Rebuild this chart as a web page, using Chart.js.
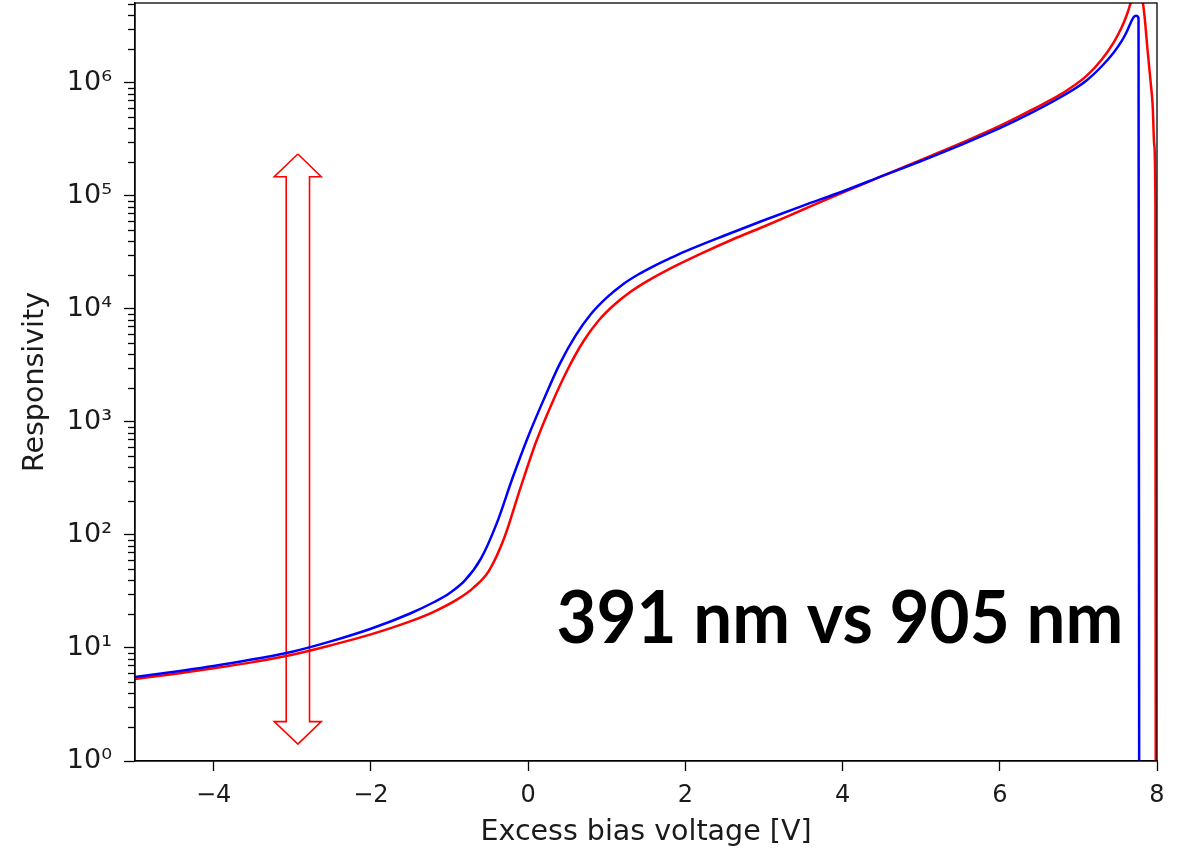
<!DOCTYPE html>
<html>
<head>
<meta charset="utf-8">
<script src="https://cdn.jsdelivr.net/npm/chart.js@4.4.1/dist/chart.umd.min.js"></script>
<style>
  html, body { margin: 0; padding: 0; background: #fff; }
  #wrap { width: 1183px; height: 853px; }
</style>
</head>
<body>
<div id="wrap"><canvas id="chart" width="1183" height="853"></canvas></div>
<script>
// 391 nm (blue)
const blueVoltage = [
  -5.0, -4.5, -4.0, -3.5, -3.0, -2.5, -2.0, -1.5, -1.2, -1.0, -0.8, -0.6, -0.4,
  -0.2, 0.0, 0.2, 0.4, 0.6, 0.8, 1.0, 1.2, 1.4, 1.6, 1.8, 2.0, 2.5, 3.0, 3.5, 4.0, 4.5,
  5.0, 5.5, 6.0, 6.4, 6.8, 7.1, 7.3, 7.45, 7.55, 7.62, 7.67, 7.7, 7.735, 7.765, 7.775,
];
const blueResponsivity = [
  5.53, 6.17, 6.92, 7.94, 9.27, 11.5, 14.8, 20.2, 25.4, 30.5, 39.8, 61.7, 126,
  316, 741, 1585, 3236, 5754, 9016, 12590, 16410, 20180, 23990, 27990, 32360, 44700, 61000, 82200, 109600, 149600,
  204000, 282000, 398000, 543000, 767000, 1047000, 1413000, 1862000, 2344000, 2884000, 3467000, 3802000, 3936000, 3758000, 0.01,
];

// 905 nm (red)
const redVoltage = [
  -5.0, -4.5, -4.0, -3.5, -3.0, -2.5, -2.0, -1.5, -1.2, -0.9, -0.7, -0.5, -0.3,
  -0.1, 0.1, 0.3, 0.5, 0.7, 0.9, 1.1, 1.3, 1.5, 1.8, 2.2, 2.6, 3.0, 3.5, 4.0, 4.5,
  5.0, 5.5, 6.0, 6.4, 6.8, 7.1, 7.3, 7.45, 7.55, 7.62, 7.67, 7.72, 7.76, 7.8, 7.84,
  7.88, 7.92, 7.945, 7.965, 7.98, 7.985,
];
const redResponsivity = [
  5.32, 5.89, 6.61, 7.5, 8.71, 10.6, 13.2, 17.2, 20.9, 26.9, 33.9, 47.9, 95.5,
  257, 661, 1445, 2884, 5129, 7943, 10960, 14130, 17380, 22650, 30900, 41200, 53700, 75900, 107000, 149600,
  209000, 292000, 417000, 575000, 813000, 1148000, 1622000, 2291000, 3090000, 4074000, 5248000, 6607000, 7244000, 6310000, 3981000,
  1950000, 1000000, 631000, 282000, 79400, 0.01,
];

// double-headed outline arrow, in data units
const arrowVoltage = [-2.928, -2.631, -2.780, -2.780, -2.631, -2.928, -3.229, -3.077, -3.077, -3.229, -2.928];
const arrowResponsivity = [235000, 148000, 148000, 2.23, 2.23, 1.41, 2.23, 2.23, 148000, 148000, 235000];

const xTicks = [-4, -2, 0, 2, 4, 6, 8];
const yTicks = [1, 10, 100, 1000, 10000, 100000, 1000000];
const superscripts = ["⁰", "¹", "²", "³", "⁴", "⁵", "⁶", "⁷"];

const annotationText = "391 nm vs 905 nm";
const annotationFrom = 0.36;
const annotationTo = 7.57;
const annotationLevel = 11;

function points(xs, ys) {
  return xs.map((x, i) => ({ x, y: ys[i] }));
}

const framePlugin = {
  id: "frame",
  afterDatasetsDraw(chart) {
    const { ctx, chartArea: area, scales } = chart;
    const y = scales.y;
    ctx.save();
    ctx.strokeStyle = "#000";
    ctx.lineWidth = 1.3;
    // minor ticks on the log axis
    for (let e = 0; e <= 7; e++) {
      for (let k = 2; k <= 9; k++) {
        const v = k * Math.pow(10, e);
        if (v > y.max) continue;
        const py = Math.round(y.getPixelForValue(v)) + 0.5;
        ctx.beginPath();
        ctx.moveTo(area.left, py);
        ctx.lineTo(area.left - 7, py);
        ctx.stroke();
      }
    }
    ctx.strokeRect(area.left, area.top, area.right - area.left, area.bottom - area.top);
    ctx.restore();
  },
  afterDraw(chart) {
    const { ctx, scales } = chart;
    const x0 = scales.x.getPixelForValue(annotationFrom);
    const x1 = scales.x.getPixelForValue(annotationTo);
    const base = scales.y.getPixelForValue(annotationLevel);
    ctx.save();
    ctx.font = "bold 72px Lato";
    ctx.fillStyle = "#000";
    ctx.textBaseline = "alphabetic";
    const w = ctx.measureText(annotationText).width;
    ctx.translate(x0, base);
    ctx.scale((x1 - x0) / w, 1);
    ctx.fillText(annotationText, 0, 0);
    ctx.restore();
  },
};

new Chart(document.getElementById("chart"), {
  type: "line",
  data: {
    datasets: [
      {
        label: "391 nm",
        data: points(blueVoltage, blueResponsivity),
        borderColor: "#0000ff",
        borderWidth: 2.5,
        pointRadius: 0,
        cubicInterpolationMode: "monotone",
        clip: 0,
      },
      {
        label: "905 nm",
        data: points(redVoltage, redResponsivity),
        borderColor: "#ff0000",
        borderWidth: 2.5,
        pointRadius: 0,
        cubicInterpolationMode: "monotone",
        clip: 0,
      },
      {
        label: "arrow",
        data: points(arrowVoltage, arrowResponsivity),
        borderColor: "#ff0000",
        borderWidth: 1.6,
        pointRadius: 0,
        tension: 0,
        clip: 0,
      },
    ],
  },
  options: {
    responsive: false,
    animation: false,
    devicePixelRatio: 1,
    layout: { padding: { top: 3, right: 26, left: 0, bottom: 0 } },
    plugins: {
      legend: { display: false },
      tooltip: { enabled: false },
    },
    scales: {
      x: {
        type: "linear",
        min: -5,
        max: 8,
        afterBuildTicks: (scale) => {
          scale.ticks = xTicks.map((value) => ({ value }));
        },
        afterFit: (scale) => {
          scale.height = 92;
          scale.paddingLeft = 0;
          scale.paddingRight = 0;
        },
        ticks: {
          color: "#1a1a1a",
          font: { family: "DejaVu Sans", size: 24 },
          padding: 10,
          maxRotation: 0,
          callback: (v) => (v < 0 ? "\u2212" + Math.abs(v) : String(v)),
        },
        grid: {
          display: true,
          drawOnChartArea: false,
          drawTicks: true,
          tickLength: 10,
          tickColor: "#000",
          tickWidth: 1.3,
        },
        border: { display: true, color: "#000", width: 1.3 },
        title: {
          display: true,
          text: "Excess bias voltage [V]",
          color: "#1a1a1a",
          font: { family: "DejaVu Sans", size: 28.5 },
          padding: { top: 0, bottom: 3 },
        },
      },
      y: {
        type: "logarithmic",
        min: 1,
        max: 5.1e6,
        bounds: "data",
        afterBuildTicks: (scale) => {
          scale.ticks = yTicks.map((value) => ({ value }));
        },
        afterFit: (scale) => {
          scale.width = 135;
          scale.paddingTop = 0;
          scale.paddingBottom = 0;
        },
        ticks: {
          color: "#1a1a1a",
          font: { family: "DejaVu Sans", size: 27 },
          padding: 12,
          callback: (v) => "10" + superscripts[Math.round(Math.log10(v))],
        },
        grid: {
          display: true,
          drawOnChartArea: false,
          drawTicks: true,
          tickLength: 11,
          tickColor: "#000",
          tickWidth: 1.3,
        },
        border: { display: true, color: "#000", width: 1.3 },
        title: {
          display: true,
          text: "Responsivity",
          color: "#1a1a1a",
          font: { family: "DejaVu Sans", size: 28.5 },
          padding: { top: 18, bottom: 0 },
        },
      },
    },
  },
  plugins: [framePlugin],
});
</script>
</body>
</html>
